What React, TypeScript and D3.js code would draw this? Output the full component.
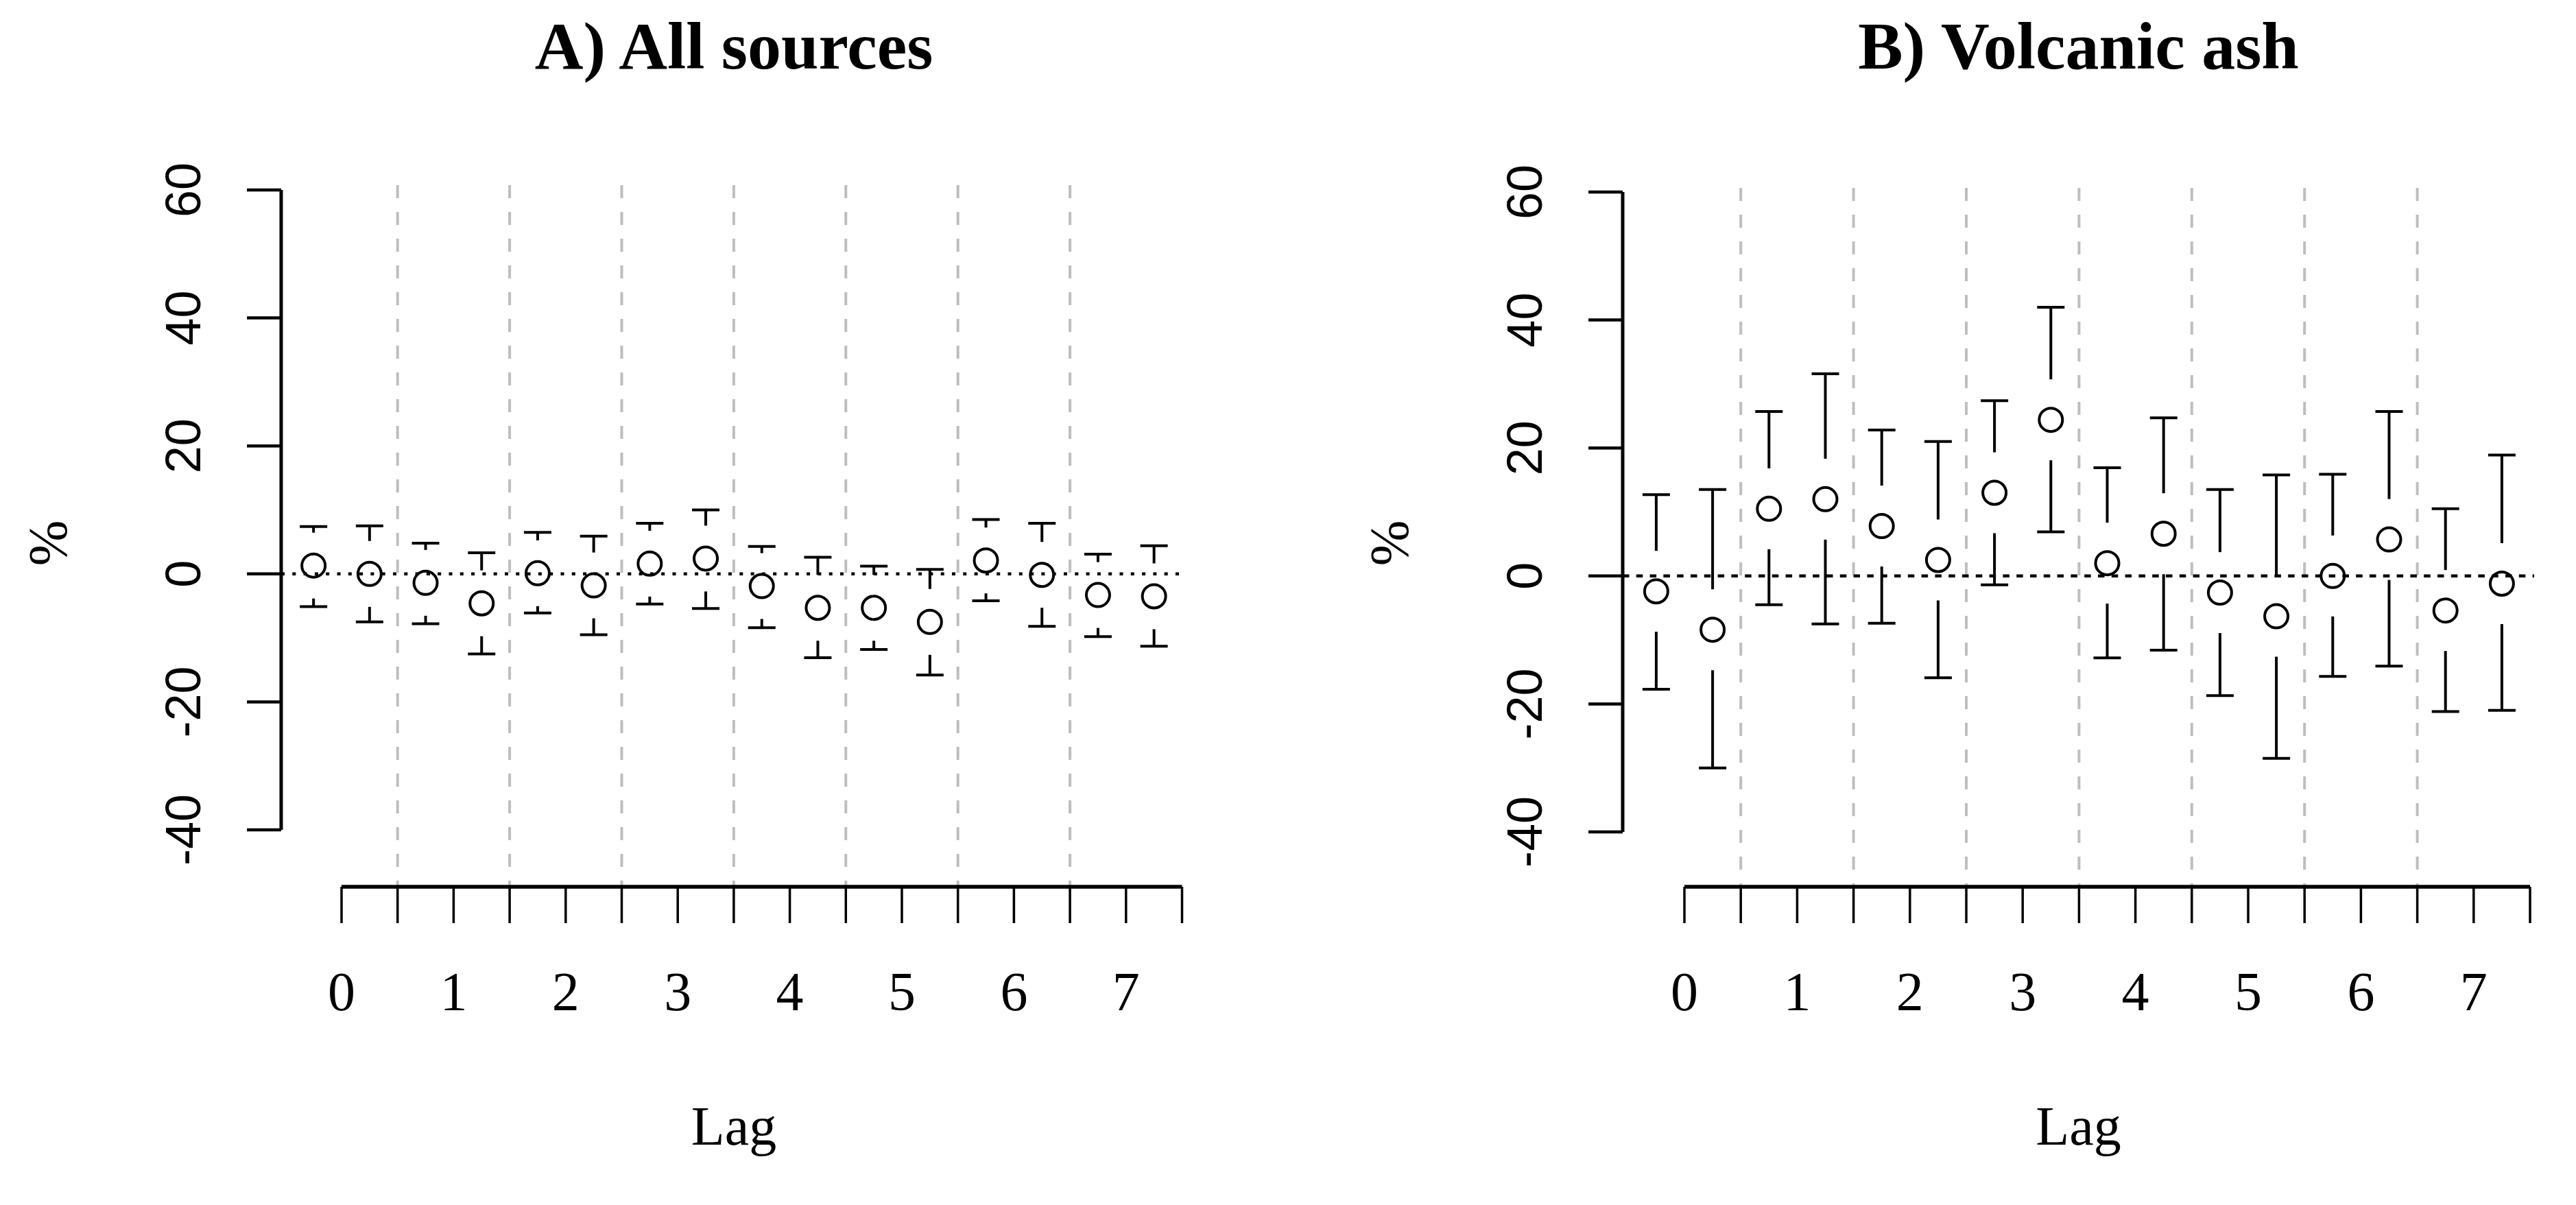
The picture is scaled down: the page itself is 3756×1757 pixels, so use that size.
import React from 'react';
import * as d3 from 'd3';

// lag labels and error-bar data (two estimates per lag)
const lags = [0, 1, 2, 3, 4, 5, 6, 7];

const allEst = [1.3, 0.0, -1.4, -4.6, 0.1, -1.8, 1.6, 2.4, -1.9, -5.3, -5.3, -7.5, 2.1, -0.15, -3.3, -3.5];
const allUpper = [7.4, 7.5, 4.8, 3.3, 6.5, 5.9, 7.9, 10.0, 4.3, 2.6, 1.2, 0.7, 8.5, 7.9, 3.1, 4.4];
const allLower = [-5.1, -7.5, -7.8, -12.5, -6.1, -9.5, -4.7, -5.4, -8.4, -13.1, -11.8, -15.8, -4.2, -8.2, -9.8, -11.3];

const ashEst = [-2.4, -8.4, 10.5, 12.0, 7.8, 2.5, 13.0, 24.4, 2.0, 6.6, -2.6, -6.3, 0.0, 5.7, -5.4, -1.2];
const ashUpper = [12.7, 13.5, 25.7, 31.6, 22.8, 21.0, 27.4, 42.0, 16.9, 24.7, 13.5, 15.8, 15.9, 25.7, 10.5, 18.9];
const ashLower = [-17.7, -30.0, -4.5, -7.5, -7.4, -15.9, -1.4, 6.9, -12.8, -11.6, -18.7, -28.5, -15.7, -14.1, -21.2, -21.0];

const yTicks = [-40, -20, 0, 20, 40, 60];

const SERIF = '"Liberation Serif", "Times New Roman", serif';
const SANS = '"Liberation Sans", Arial, sans-serif';

const Panel = ({ title, est, upper, lower, axisX, lag0X, lagUnit, plotRight, yBottom, yTop, gap, dashTop, dotDash }) => {
  const x = d3.scaleLinear().domain([0, 7]).range([lag0X, lag0X + 7 * lagUnit]);
  const y = d3.scaleLinear().domain([-40, 60]).range([yBottom, yTop]);
  const cx = (plotRight + axisX) / 2;
  const xAxisY = 1293;
  const halfTicks = d3.range(16).map(k => k / 2);

  const points = est.map((v, j) => ({
    x: x(Math.floor(j / 2) + (j % 2 === 0 ? -0.25 : 0.25)),
    est: v,
    hi: upper[j],
    lo: lower[j],
  }));

  return (
    <g>
      <text x={cx} y={100} textAnchor="middle" fontFamily={SERIF} fontWeight="bold" fontSize={98}>{title}</text>

      {/* gray separators between lags */}
      {lags.slice(0, 7).map(l => (
        <line key={l} x1={x(l + 0.5)} x2={x(l + 0.5)} y1={dashTop} y2={xAxisY}
          stroke="#bebebe" strokeWidth={4} strokeDasharray="19 20" />
      ))}

      {/* zero reference */}
      <line x1={axisX} x2={plotRight} y1={y(0)} y2={y(0)} stroke="#000" strokeWidth={4.5} strokeDasharray={dotDash} />

      {/* y axis */}
      <line x1={axisX} x2={axisX} y1={y(60)} y2={y(-40)} stroke="#000" strokeWidth={5} />
      {yTicks.map(t => (
        <g key={t}>
          <line x1={axisX - 50} x2={axisX} y1={y(t)} y2={y(t)} stroke="#000" strokeWidth={4.5} />
          <text transform={`translate(${axisX - 118},${y(t)}) rotate(-90)`} textAnchor="middle"
            fontFamily={SANS} fontSize={72}>{t}</text>
        </g>
      ))}
      <text transform={`translate(${axisX - 313},792) rotate(-90)`} textAnchor="middle"
        fontFamily={SERIF} fontSize={80}>%</text>

      {/* x axis */}
      <line x1={x(0)} x2={x(7.5)} y1={xAxisY} y2={xAxisY} stroke="#000" strokeWidth={5.5} />
      {halfTicks.map(t => (
        <line key={t} x1={x(t)} x2={x(t)} y1={xAxisY} y2={xAxisY + 53} stroke="#000" strokeWidth={3.5} />
      ))}
      {lags.map(l => (
        <text key={l} x={x(l)} y={1473} textAnchor="middle" fontFamily={SERIF} fontSize={80}>{l}</text>
      ))}
      <text x={cx} y={1669} textAnchor="middle" fontFamily={SERIF} fontSize={80}>Lag</text>

      {/* estimates with confidence intervals */}
      {points.map((p, i) => {
        const yc = y(p.est);
        const yh = y(p.hi);
        const yl = y(p.lo);
        return (
          <g key={i} stroke="#000" strokeWidth={4} fill="none">
            <circle cx={p.x} cy={yc} r={17} />
            {yh < yc - gap && <line x1={p.x} x2={p.x} y1={yh} y2={yc - gap} />}
            {yl > yc + gap && <line x1={p.x} x2={p.x} y1={yc + gap} y2={yl} />}
            <line x1={p.x - 20} x2={p.x + 20} y1={yh} y2={yh} />
            <line x1={p.x - 20} x2={p.x + 20} y1={yl} y2={yl} />
          </g>
        );
      })}
    </g>
  );
};

export default function App() {
  return (
    <svg width={3756} height={1757} viewBox="0 0 3756 1757"
      style={{ position: 'absolute', left: 0, top: 0, display: 'block', background: '#fff' }}>
      <rect width={3756} height={1757} fill="#fff" />
      <Panel title="A) All sources" est={allEst} upper={allUpper} lower={allLower}
        axisX={410} lag0X={498} lagUnit={163.4} plotRight={1730}
        yBottom={1210} yTop={277} gap={48} dashTop={270} dotDash="5 11.3" />
      <Panel title="B) Volcanic ash" est={ashEst} upper={ashUpper} lower={ashLower}
        axisX={2366} lag0X={2456} lagUnit={164.4} plotRight={3695}
        yBottom={1213} yTop={280} gap={59} dashTop={274} dotDash="9.5 10.3" />
    </svg>
  );
}
